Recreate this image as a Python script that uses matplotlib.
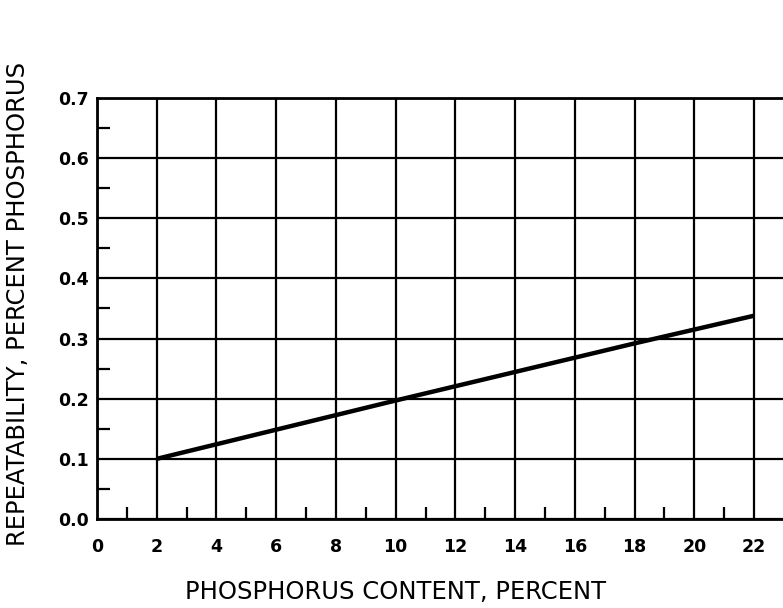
import numpy as np
import matplotlib
matplotlib.use("Agg")
import matplotlib.pyplot as plt
from matplotlib.ticker import MultipleLocator

# data
content = [2, 10, 18, 22]
repeat = [0.10, 0.197, 0.292, 0.338]
xticks = [0, 2, 4, 6, 8, 10, 12, 14, 16, 18, 20, 22]
yticks = [0.0, 0.1, 0.2, 0.3, 0.4, 0.5, 0.6, 0.7]

fig = plt.figure(figsize=(7.83, 6.08), dpi=100)
ax = fig.add_axes([0.1239, 0.1464, 0.8761, 0.6924])

ax.plot(content, repeat, color="black", lw=3.2, solid_capstyle="butt")
ax.set_xlim(0, 22.97)
ax.set_ylim(0, 0.7)
ax.set_xticks(xticks)
ax.set_yticks(yticks)
ax.set_xticklabels([str(t) for t in xticks])
ax.set_yticklabels([f"{t:.1f}" for t in yticks])
ax.xaxis.set_minor_locator(MultipleLocator(1))
ax.yaxis.set_minor_locator(MultipleLocator(0.05))
ax.grid(True, which="major", color="black", lw=1.6)
ax.tick_params(which="major", length=0, pad=14, labelsize=12.5)
ax.tick_params(which="minor", direction="in", length=9, width=1.6, color="black")
ax.tick_params(axis="y", which="major", pad=6)
for lab in ax.get_xticklabels() + ax.get_yticklabels():
    lab.set_fontweight("bold")
for s in ("left", "bottom", "top"):
    ax.spines[s].set_linewidth(2)
ax.spines["right"].set_visible(False)

fig.text(0.0235, 0.5, "REPEATABILITY, PERCENT PHOSPHORUS", rotation=90,
         ha="center", va="center", fontsize=17.5, family="DejaVu Sans")
fig.text(0.505, 0.026, "PHOSPHORUS CONTENT, PERCENT", ha="center",
         va="center", fontsize=17.5, family="DejaVu Sans")

fig.savefig("out.png", dpi=100)
